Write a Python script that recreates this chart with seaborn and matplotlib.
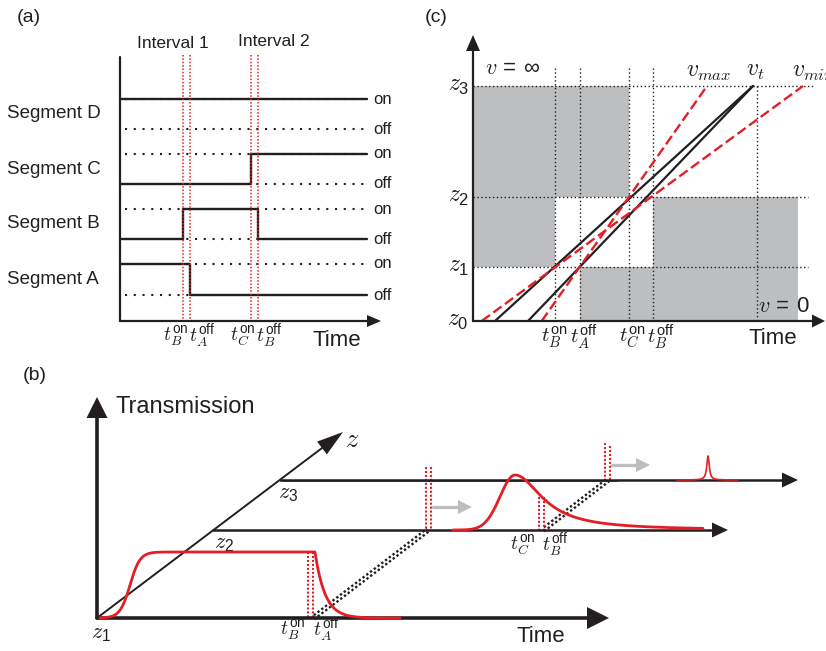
import numpy as np
import pandas as pd
import matplotlib
matplotlib.use("Agg")
import matplotlib.pyplot as plt
import seaborn as sns

sns.set_theme(style="white")
plt.rcParams['font.family'] = ['Liberation Sans', 'DejaVu Sans']
plt.rcParams['mathtext.fontset'] = 'custom'
plt.rcParams['mathtext.rm'] = 'Liberation Sans'
plt.rcParams['mathtext.sf'] = 'Liberation Sans'
plt.rcParams['mathtext.it'] = 'cmmi10'
plt.rcParams['mathtext.fallback'] = 'cm'

INK = '#231f20'
RED = '#e31f26'
GREY = '#bcbec0'

# ---------------- panel (a): switching of the four segments (figure px)
a_x0, a_x1 = 120, 367
a_axis_y = 321
segments = ['Segment D', 'Segment C', 'Segment B', 'Segment A']
seg_on_y = [99, 154, 209, 264]
seg_off_y = [129, 184, 239, 295]
seg_start_on = [True, False, False, True]
seg_switch = [[], [250.7], [182.7, 258], [190.3]]
a_red_x = [182.7, 190.3, 250.7, 258]
a_tick_x = [176, 202.5, 242.5, 269]
tick_text = [r'$t_B^{\mathsf{on}}$', r'$t_A^{\mathsf{off}}$',
             r'$t_C^{\mathsf{on}}$', r'$t_B^{\mathsf{off}}$']

# ---------------- panel (c): space-time diagram
c_x0, c_y0 = 473, 321
c_z_y = [321, 267, 197, 86]          # z0 .. z3
c_z_lab = [r'$z_{\mathsf{0}}$', r'$z_{\mathsf{1}}$', r'$z_{\mathsf{2}}$', r'$z_{\mathsf{3}}$']
c_t_x = [555, 580, 629.3, 652.7]     # tB_on, tA_off, tC_on, tB_off
c_t_lab_x = [554, 584, 632, 661]
c_vt_x = 757
c_right = 798
# blocked (off) time spans for each layer between z_k and z_k+1
c_off = [[(c_t_x[1], c_right)],
         [(c_x0, c_t_x[0]), (c_t_x[3], c_right)],
         [(c_x0, c_t_x[2])]]
# trajectories: x at z0 and x at z3
c_black = [(495, 753), (528, 753)]
c_red = [(481.7, 803), (541.7, 707)]

# ---------------- panel (b): transmission at z1, z2, z3
b_origin = (97, 618)
b_z_tip = (343, 432)
b_plane_y = [618, 530, 480]
b_plane_end = [608, 728, 798]
b_red_dots = [(308, 552, 618), (313, 552, 618), (426, 467, 530), (431, 467, 530),
              (539, 497, 530), (544, 497, 530), (605, 443, 480), (610, 446, 480)]
b_diag = [((313, 618), (428, 530)), ((543, 530), (608, 480))]
b_grey_arrows = [((433, 507), (472, 507)), ((612, 465), (650, 465))]
b_tick_x = [293, 326, 523, 555]
b_tick_y = [630, 630, 545, 545]
# pulse shapes (start, end, centre, height, widths)
p1 = dict(x0=100, x1=400, rise=130, rise_w=10, fall=315, tau=10, h=66)
p2 = dict(x0=453, x1=703, peak=515, h=55, left=15, right=33)
p3 = dict(x0=677, x1=738, peak=708, h=24, w=1.5)

fig = plt.figure(figsize=(8.26, 6.51), dpi=100)
ax = fig.add_axes([0, 0, 1, 1])
ax.set_xlim(0, 826)
ax.set_ylim(651, 0)
ax.axis('off')


def head(tip, base, hw, color=INK, z=6):
    tip = np.array(tip, float)
    base = np.array(base, float)
    d = tip - base
    n = np.array([-d[1], d[0]]) / np.hypot(*d)
    pts = np.array([tip, base + n * hw, base - n * hw])
    ax.fill(pts[:, 0], pts[:, 1], color=color, lw=0, zorder=z)


def line(xs, ys, **kw):
    sns.lineplot(x=np.asarray(xs, float), y=np.asarray(ys, float), ax=ax,
                 estimator=None, sort=False, legend=False, **kw)


# ================= panel (a)
ax.text(29, 18, '(a)', ha='center', va='center', fontsize=14, color=INK)
ax.text(173, 43, 'Interval 1', ha='center', va='center', fontsize=12.5, color=INK)
ax.text(274, 42, 'Interval 2', ha='center', va='center', fontsize=12.5, color=INK)
for x in a_red_x:
    ax.plot([x, x], [55, a_axis_y], color=RED, lw=1.1, ls=(0, (1, 1.2)), zorder=4)

for name, yon, yoff, st, sw in zip(segments, seg_on_y, seg_off_y, seg_start_on, seg_switch):
    for yy in (yon, yoff):
        ax.plot([125, a_x1], [yy, yy], color=INK, lw=1.5, ls=(0, (1, 3.2)), zorder=2)
    state = st
    xs, ys = [a_x0], [yon if state else yoff]
    for t in sw:
        xs += [t, t]
        ys += [yon if state else yoff, yoff if state else yon]
        state = not state
    xs.append(a_x1)
    ys.append(yon if state else yoff)
    line(xs, ys, color=INK, lw=1.7, zorder=3)
    ax.text(7, (yon + yoff) / 2, name, ha='left', va='center', fontsize=13.5, color=INK)
    ax.text(373, yon, 'on', ha='left', va='center', fontsize=12, color=INK)
    ax.text(373, yoff, 'off', ha='left', va='center', fontsize=12, color=INK)

ax.plot([a_x0, a_x0], [57, a_axis_y], color=INK, lw=1.6, zorder=5)
ax.plot([a_x0, 370], [a_axis_y, a_axis_y], color=INK, lw=1.6, zorder=5)
head((381, a_axis_y), (367, a_axis_y), 6)
for x, s in zip(a_tick_x, tick_text):
    ax.text(x, 336, s, ha='center', va='center', fontsize=14, color=INK)
ax.text(337, 340, 'Time', ha='center', va='center', fontsize=16, color=INK)

# ================= panel (c)
ax.text(436, 18, '(c)', ha='center', va='center', fontsize=14, color=INK)
for k, spans in enumerate(c_off):
    for x0, x1 in spans:
        ax.fill_between([x0, x1], c_z_y[k + 1], c_z_y[k], color=GREY, lw=0, zorder=1)
for k, yy in enumerate(c_z_y[1:]):
    ax.plot([c_x0, 813 if k == 2 else 808], [yy, yy], color=INK, lw=1.0,
            ls=(0, (1, 1.8)), zorder=2)
for x in c_t_x:
    ax.plot([x, x], [68, c_y0], color=INK, lw=1.0, ls=(0, (1, 1.8)), zorder=2)
ax.plot([c_vt_x, c_vt_x], [c_z_y[3], c_y0], color=INK, lw=1.0, ls=(0, (1, 1.8)), zorder=2)
for xb, xt in c_black:
    line([xb, xt], [c_z_y[0], c_z_y[3]], color=INK, lw=1.6, zorder=3)
for xb, xt in c_red:
    ax.plot([xb, xt], [c_z_y[0], c_z_y[3]], color=RED, lw=1.7, ls=(0, (4.3, 1.8)), zorder=4)
ax.plot([c_x0, c_x0], [c_y0, 48], color=INK, lw=1.6, zorder=5)
ax.plot([c_x0, 815], [c_y0, c_y0], color=INK, lw=1.6, zorder=5)
head((c_x0, 35), (c_x0, 51), 7)
head((825, c_y0), (812, c_y0), 6.5)
for yy, s in zip(c_z_y, c_z_lab):
    ax.text(469, yy, s, ha='right', va='center', fontsize=17, color=INK)
for x, s in zip(c_t_lab_x, tick_text):
    ax.text(x, 337, s, ha='center', va='center', fontsize=15, color=INK)
ax.text(773, 338, 'Time', ha='center', va='center', fontsize=16, color=INK)
ax.text(513, 68, r'$v\,=\,\infty$', ha='center', va='center', fontsize=16, color=INK)
ax.text(784, 306, r'$v\,=\,\mathsf{0}$', ha='center', va='center', fontsize=16, color=INK)
ax.text(709, 72, r'$v_{max}$', ha='center', va='center', fontsize=17, color=INK)
ax.text(755, 71, r'$v_t$', ha='center', va='center', fontsize=17, color=INK)
ax.text(792, 72, r'$v_{min}$', ha='left', va='center', fontsize=17, color=INK)

# ================= panel (b)
ax.text(35, 376, '(b)', ha='center', va='center', fontsize=14, color=INK)
ox, oy = b_origin
slope = (b_z_tip[0] - ox) / (oy - b_z_tip[1])   # dx per px of rise along z
ax.plot([ox, ox], [oy, 412], color=INK, lw=2.6, zorder=5)
head((ox, 397), (ox, 418), 10.5)
ax.plot([ox, 590], [oy, oy], color=INK, lw=2.6, zorder=5)
head((609, oy), (587, oy), 11)
ax.plot([ox, 330], [oy, 442], color=INK, lw=1.4, zorder=5)
head(b_z_tip, (322, 448), 8)
ax.text(352, 440, r'$z$', ha='center', va='center', fontsize=19, color=INK)
ax.text(115, 407, 'Transmission', ha='left', va='center', fontsize=17, color=INK)
ax.text(541, 636, 'Time', ha='center', va='center', fontsize=16, color=INK)

for yy, xe in zip(b_plane_y[1:], b_plane_end[1:]):
    xs = ox + (oy - yy) * slope
    ax.plot([xs, xe - 12], [yy, yy], color=INK, lw=1.8, zorder=5)
    head((xe, yy), (xe - 16, yy), 7.5)
ax.plot([282, 617], [481.2, 481.2], color=RED, lw=0.7, zorder=4)

for x, yt, yb in b_red_dots:
    ax.plot([x, x], [yt, yb], color=RED, lw=1.5, ls=(0, (1, 0.9)), zorder=4)

for (x0, y0), (x1, y1) in b_diag:
    d = np.array([x1 - x0, y1 - y0], float)
    n = np.array([-d[1], d[0]]) / np.hypot(*d) * 1.7
    for sgn, off in ((1, 0), (-1, 1.0)):
        ax.plot([x0 + sgn * n[0], x1 + sgn * n[0]], [y0 + sgn * n[1], y1 + sgn * n[1]],
                color=INK, lw=1.7, ls=(off, (1, 1.0)), zorder=3)

for (x0, y0), (x1, y1) in b_grey_arrows:
    ax.plot([x0, x1 - 10], [y0, y1], color=GREY, lw=2.4, zorder=4)
    head((x1, y1), (x1 - 14, y1), 7, color=GREY, z=4)

# pulse at z1
x = np.linspace(p1['x0'], p1['x1'], 600)
f = np.where(x < p1['fall'], 0.5 * (1 + np.tanh((x - p1['rise']) / p1['rise_w'])),
             np.exp(-(x - p1['fall']) / p1['tau']))
line(x, b_plane_y[0] - p1['h'] * f, color=RED, lw=2.0, zorder=6)
# pulse at z2
x = np.linspace(p2['x0'], p2['x1'], 600)
d = x - p2['peak']
f = np.where(d < 0, np.exp(-d ** 2 / (2 * p2['left'] ** 2)), 1 / (1 + (d / p2['right']) ** 2))
line(x, b_plane_y[1] - p2['h'] * f, color=RED, lw=2.0, zorder=6)
# pulse at z3
x = np.linspace(p3['x0'], p3['x1'], 600)
f = 1 / (1 + ((x - p3['peak']) / p3['w']) ** 2)
line(x, b_plane_y[2] - p3['h'] * f, color=RED, lw=1.2, zorder=6)

ax.text(288, 494, r'$z_{\mathsf{3}}$', ha='center', va='center', fontsize=16, color=INK)
ax.text(224, 544, r'$z_{\mathsf{2}}$', ha='center', va='center', fontsize=16, color=INK)
ax.text(101, 634, r'$z_{\mathsf{1}}$', ha='center', va='center', fontsize=16, color=INK)
for x0, y0, s in zip(b_tick_x, b_tick_y, tick_text):
    ax.text(x0, y0, s, ha='center', va='center', fontsize=14, color=INK)

fig.savefig('out.png', dpi=100)
